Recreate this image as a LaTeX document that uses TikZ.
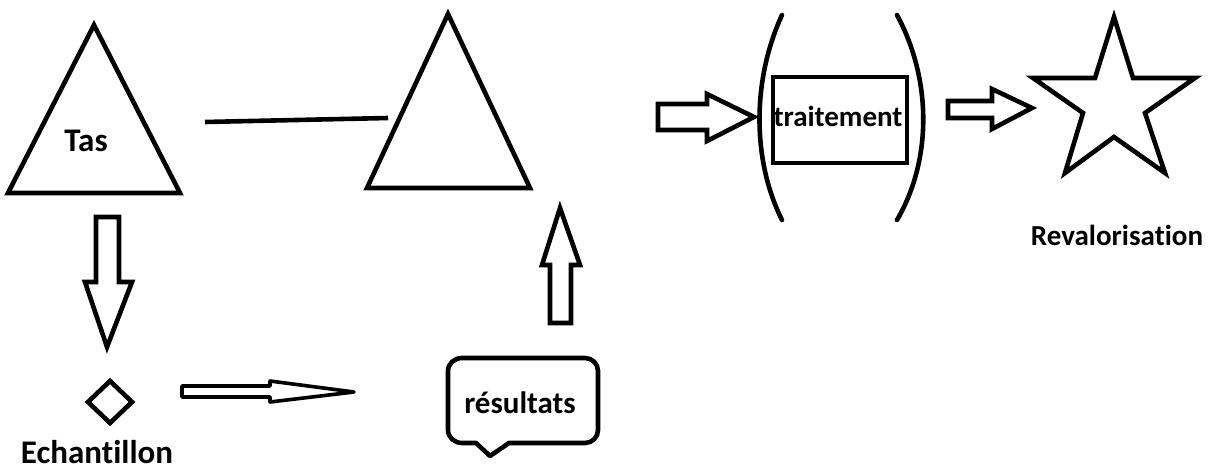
\documentclass[tikz,border=0pt]{standalone}
\usepackage{fontspec}
\setmainfont{Carlito}[Ligatures=NoCommon]
\begin{document}
\begin{tikzpicture}[x=1pt,y=-1pt,
  shp/.style={draw=black, line width=4.6pt, line join=miter, miter limit=20},
  thin/.style={draw=black, line width=3.6pt, line join=round},
  lbl/.style={inner sep=0pt, anchor=base, font=\bfseries\fontsize{33}{40}\selectfont},
  revlbl/.style={inner sep=0pt, anchor=base, font=\bfseries\fontsize{29}{36}\selectfont},
  smalllbl/.style={inner sep=0pt, anchor=base, font=\bfseries\fontsize{31}{36}\selectfont}]
\useasboundingbox (0,0) rectangle (1214,470);
% Tas triangle
\draw[shp] (94,25) -- (8,193) -- (180,193) -- cycle;
\node[lbl] (tas) at (86,152) {Tas};
% connecting line
\coordinate (l1) at (205,122);
\coordinate (l2) at (388,118);
\draw[shp] (l1) -- (l2);
% second triangle
\draw[shp] (448,14) -- (367,188) -- (530,188) -- cycle;
% down block arrow
\draw[shp] (96,217) -- (119,217) -- (119,282) -- (132,282) -- (107,347) -- (85,282) -- (96,282) -- cycle;
% diamond
\draw[shp] (110,381) -- (132,402) -- (110,423) -- (88,402) -- cycle;
\node[lbl] (ech) at (97,463) {Echantillon};
% thin right arrow
\draw[thin] (182,386) -- (270,386) -- (270,381) -- (354,392) -- (270,402) -- (270,397) -- (182,397) -- cycle;
% resultats callout
\draw[shp, line join=round] (462,358) -- (585,358) to[out=0,in=90] (598,371) -- (598,430)
  to[out=-90,in=0] (585,443) -- (509,443) -- (490,456) -- (476,443) -- (462,443)
  to[out=180,in=-90] (448,430) -- (448,371) to[out=90,in=180] (462,358) -- cycle;
\node[smalllbl] (res) at (520,413) {résultats};
% up block arrow
\draw[shp] (550,323) -- (571,323) -- (571,265) -- (580,265) -- (560,208) -- (542,265) -- (550,265) -- cycle;
% arrow into treatment
\draw[shp] (658,104) -- (707,104) -- (707,94) -- (754,117) -- (707,141) -- (707,130) -- (658,130) -- cycle;
% parentheses
\draw[shp, line cap=round] (782,15) .. controls (752,80) and (752,160) .. (782,220);
\draw[shp, line cap=round] (897,15) .. controls (932,80) and (932,160) .. (897,220);
% treatment box
\draw[shp] (773,77) rectangle (907,163);
\node[smalllbl, font=\bfseries\fontsize{29}{34}\selectfont] (trt) at (838,127) {traitement};
% arrow to star
\draw[shp] (948,101) -- (992,101) -- (992,89) -- (1032,108) -- (992,129) -- (992,118) -- (948,118) -- cycle;
% star
\draw[shp] (1114,17) -- (1133,78) -- (1195,78) -- (1145,113) -- (1165,173) -- (1114,137)
  -- (1065,173) -- (1083,113) -- (1033,78) -- (1095,78) -- cycle;
\node[revlbl] (rev) at (1117,245) {Revalorisation};
\end{tikzpicture}
\end{document}
